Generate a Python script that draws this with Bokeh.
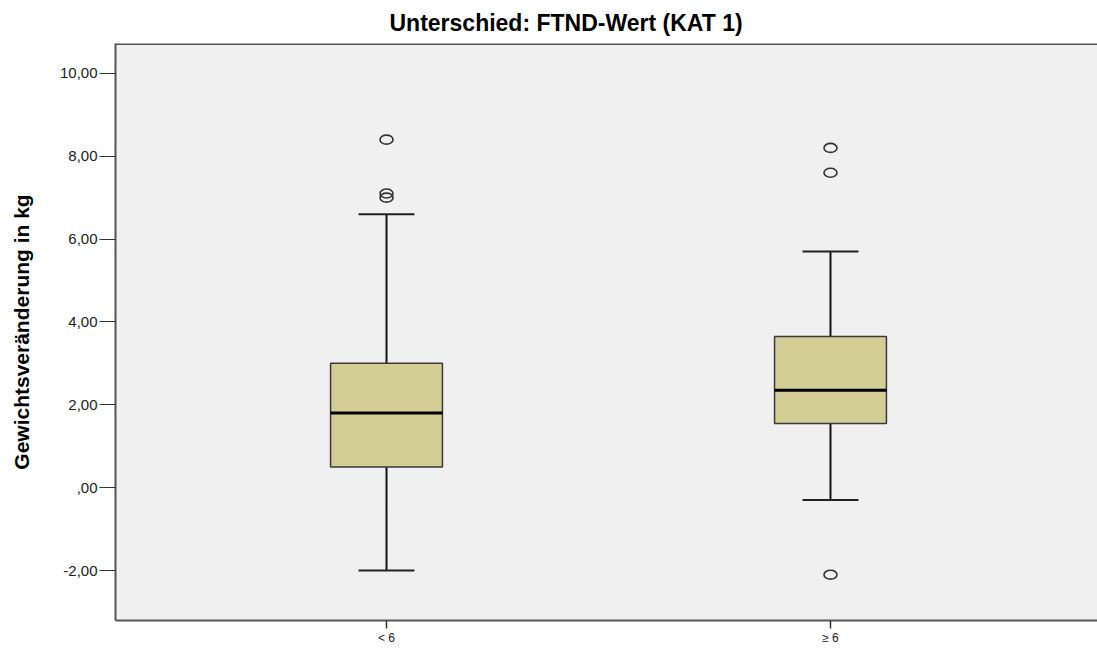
from bokeh.plotting import figure
from bokeh.models import Range1d, FixedTicker, CustomJSTickFormatter, Title, Span
from bokeh.embed import file_html
from bokeh.resources import INLINE

# ---- data ----
categories = ["< 6", "≥ 6"]
q1 = [0.50, 1.55]
median = [1.80, 2.35]
q3 = [3.00, 3.65]
whisker_low = [-2.00, -0.30]
whisker_high = [6.60, 5.70]
outliers = [[8.40, 7.10, 7.00], [8.20, 7.60, -2.10]]
y_ticks = [-2, 0, 2, 4, 6, 8, 10]

title_text = "Unterschied: FTND-Wert (KAT 1)"
y_label = "Gewichtsveränderung in kg"

FONT = "Liberation Sans, Arial, sans-serif"

# category positions on a numeric axis
xpos = [i + 1 for i in range(len(categories))]
Y_TOP = 10.72

p = figure(width=1097, height=648, output_backend="svg", toolbar_location=None,
           x_range=Range1d(0.3896, 2.6014),
           y_range=Range1d(-3.206, Y_TOP),
           min_border_left=115, min_border_right=0, min_border_bottom=28, min_border_top=43)

p.title = Title(text=title_text, align="left", text_font=FONT, text_font_size="23px",
                text_font_style="bold", text_color="#000000", offset=274, standoff=15,
                text_line_height=1.0)

p.border_fill_color = "white"
p.background_fill_color = "#f0f0f0"
p.outline_line_color = None
p.grid.visible = False

# top frame line (right edge of frame is cut off in the reference)
p.add_layout(Span(location=Y_TOP, dimension="width", line_color="#555555", line_width=3))

# y axis
p.yaxis.ticker = FixedTicker(ticks=y_ticks)
p.yaxis.formatter = CustomJSTickFormatter(code="""
let s = tick.toFixed(2).replace('.', ',');
if (s.startsWith('0,')) s = s.slice(1);
if (s.startsWith('-0,')) s = '-' + s.slice(2);
return s;
""")
p.yaxis.axis_label = y_label
p.yaxis.axis_label_text_font = FONT
p.yaxis.axis_label_text_font_size = "21px"
p.yaxis.axis_label_text_font_style = "bold"
p.yaxis.axis_label_text_color = "#000000"
p.yaxis.axis_label_standoff = 24
p.yaxis.major_label_text_font = FONT
p.yaxis.major_label_text_font_size = "15px"
p.yaxis.major_label_text_color = "#222222"
p.yaxis.major_tick_out = 16
p.yaxis.major_tick_in = 0
p.yaxis.minor_tick_out = 0
p.yaxis.minor_tick_in = 0
p.yaxis.major_tick_line_color = "#333333"
p.yaxis.major_tick_line_width = 1
p.yaxis.axis_line_color = "#555555"
p.yaxis.axis_line_width = 2
p.yaxis.major_label_standoff = 2

# x axis
p.xaxis.ticker = FixedTicker(ticks=xpos)
p.xaxis.major_label_overrides = {x: c for x, c in zip(xpos, categories)}
p.xaxis.major_label_text_font = FONT
p.xaxis.major_label_text_font_size = "12px"
p.xaxis.major_label_text_color = "#222222"
p.xaxis.major_tick_out = 8
p.xaxis.major_tick_in = 0
p.xaxis.minor_tick_out = 0
p.xaxis.minor_tick_in = 0
p.xaxis.major_tick_line_color = "#333333"
p.xaxis.major_tick_line_width = 1.5
p.xaxis.axis_line_color = "#555555"
p.xaxis.axis_line_width = 2
p.xaxis.major_label_standoff = 2

box_w = 0.252
cap_w = 0.126

# whiskers
p.segment(x0=xpos, y0=q3, x1=xpos, y1=whisker_high, line_color="#111111", line_width=2)
p.segment(x0=xpos, y0=q1, x1=xpos, y1=whisker_low, line_color="#111111", line_width=2)
p.rect(x=xpos, y=whisker_high, width=cap_w, height=2, height_units="screen",
       fill_color="#222222", line_color=None)
p.rect(x=xpos, y=whisker_low, width=cap_w, height=2, height_units="screen",
       fill_color="#222222", line_color=None)

# boxes
p.vbar(x=xpos, top=q3, bottom=q1, width=box_w, fill_color="#d2ce96",
       line_color="#3a3a3a", line_width=1.5)
p.rect(x=xpos, y=median, width=box_w, height=3, height_units="screen",
       fill_color="#000000", line_color=None)

# outliers
ox = []
oy = []
for x, vals in zip(xpos, outliers):
    for v in vals:
        ox.append(x)
        oy.append(v)
p.ellipse(x=ox, y=oy, width=13, height=9, width_units="screen", height_units="screen",
          fill_color=None, line_color="#333333", line_width=1.6)

open("out.html", "w").write(file_html(p, INLINE))
